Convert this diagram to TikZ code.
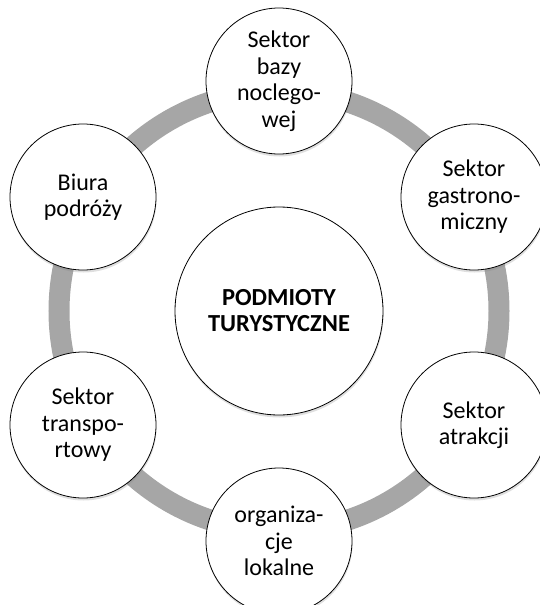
\documentclass[tikz,border=0pt]{standalone}
\usepackage{fontspec}
\setmainfont{Carlito}
\usetikzlibrary{shadows}
\definecolor{ringgray}{HTML}{A6A6A6}
\begin{document}
\begin{tikzpicture}[x=1pt,y=-1pt,
  sat/.style={circle, draw=black, line width=0.8pt, fill=white, minimum size=146pt, inner sep=0pt, align=center,
    font=\fontsize{24}{26.5}\selectfont,
    drop shadow={opacity=0.25, shadow xshift=0.5pt, shadow yshift=-2.5pt}},
  hub/.style={sat, minimum size=208pt, font=\fontsize{24.5}{26}\selectfont\bfseries},
  ringline/.style={draw=ringgray, line width=21pt}]
\useasboundingbox (0,0) rectangle (539,605);
\coordinate (rc) at (279,311);
\draw[ringline] (rc) circle[radius=220pt];
\node[hub] (c) at (279,311) {PODMIOTY\\TURYSTYCZNE};
\node[sat] (n1) at (279,81) {Sektor\\bazy\\noclego-\\wej};
\node[sat] (n2) at (474,197) {Sektor\\gastrono-\\miczny};
\node[sat] (n3) at (474,425) {Sektor\\atrakcji};
\node[sat] (n4) at (279,541) {organiza-\\cje\\lokalne};
\node[sat] (n5) at (83,425) {Sektor\\transpo-\\rtowy};
\node[sat] (n6) at (83,197) {Biura\\podróży};
\end{tikzpicture}
\end{document}
